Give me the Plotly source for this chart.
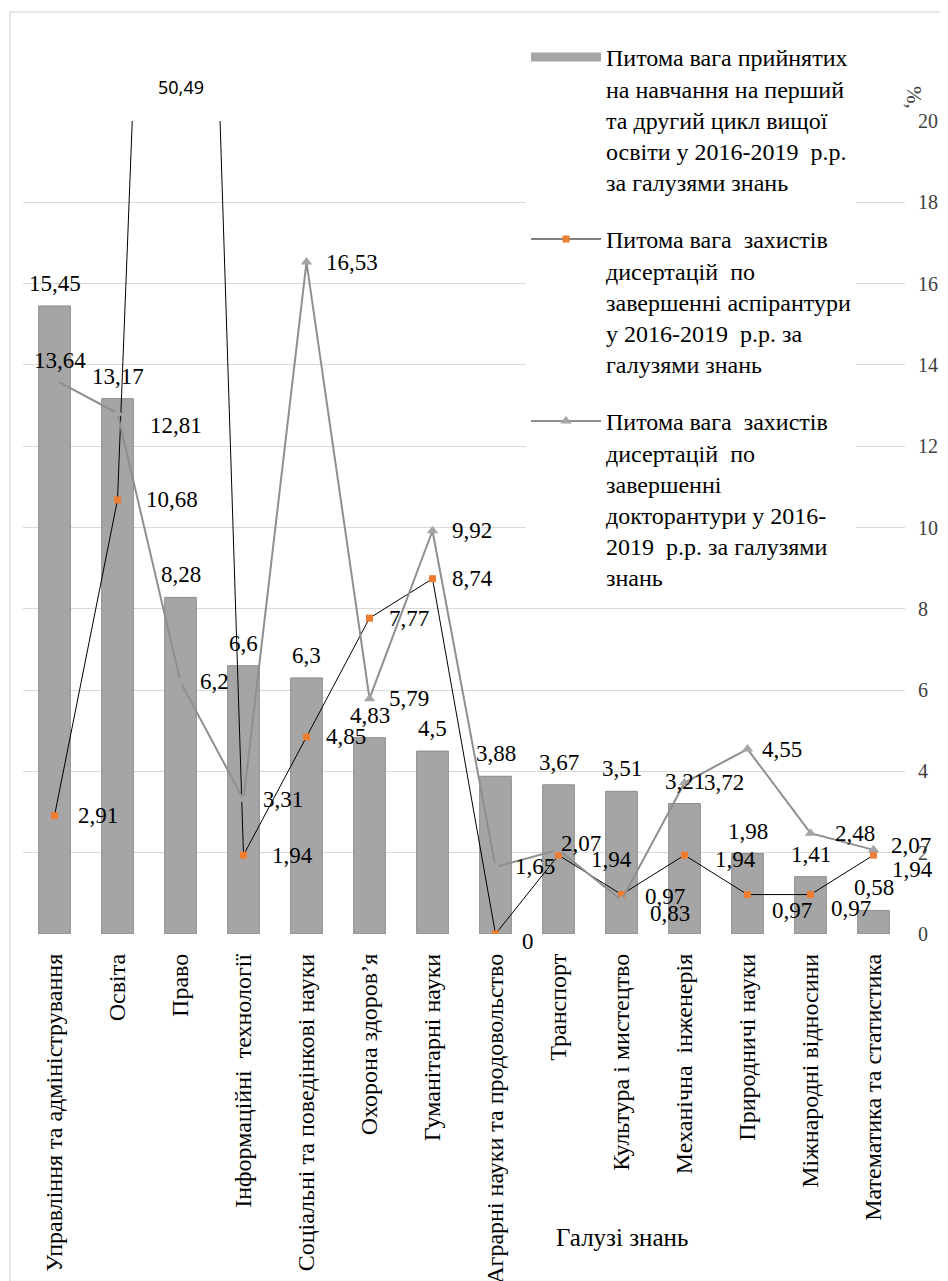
import plotly.graph_objects as go

categories = [
    "Управління та адміністрування", "Освіта", "Право", "Інформаційні  технології",
    "Соціальні та поведінкові науки", "Охорона здоров’я", "Гуманітарні науки",
    "Аграрні науки та продовольство", "Транспорт", "Культура і мистецтво",
    "Механічна  інженерія", "Природничі науки", "Міжнародні відносини",
    "Математика та статистика",
]
bar_values = [15.45, 13.17, 8.28, 6.6, 6.3, 4.83, 4.5, 3.88, 3.67, 3.51, 3.21, 1.98, 1.41, 0.58]
asp_values = [2.91, 10.68, 50.49, 1.94, 4.85, 7.77, 8.74, 0, 1.94, 0.97, 1.94, 0.97, 0.97, 1.94]
doc_values = [13.64, 12.81, 6.2, 3.31, 16.53, 5.79, 9.92, 1.65, 2.07, 0.83, 3.72, 4.55, 2.48, 2.07]
y_ticks = [0, 2, 4, 6, 8, 10, 12, 14, 16, 18, 20]

name_bar = ("Питома вага прийнятих<br>на навчання на перший<br>та другий цикл вищої<br>"
            "освіти у 2016-2019  р.р.<br>за галузями знань")
name_asp = ("Питома вага  захистів<br>дисертацій  по<br>завершенні аспірантури<br>"
            "у 2016-2019  р.р. за<br>галузями знань")
name_doc = ("Питома вага  захистів<br>дисертацій  по<br>завершенні<br>"
            "докторантури у 2016-<br>2019  р.р. за галузями<br>знань")

# label offsets (px) for individual line labels: (xshift, yshift)
asp_label_shift = {0: (21, 0), 1: (26, 0), 3: (26, 0), 7: (24, -7), 8: (30, -4), 9: (21, -2),
                   10: (28, -4), 11: (22, -16), 12: (18, -14), 13: (16, -14)}
doc_label_shift = {1: (30, -12), 8: (0, 6), 9: (26, -13), 11: (12, 0), 12: (22, 0), 13: (15, 4)}

FONT = "Liberation Serif, Times New Roman, serif"
Y_MAX = 20
BAR_COLOR = "#A5A5A5"


def fmt(v):
    return ("%g" % v).replace(".", ",")


fig = go.Figure()
fig.add_trace(go.Bar(
    x=categories, y=bar_values, name=name_bar, legendgroup="a", showlegend=False,
    marker=dict(color=BAR_COLOR, line=dict(color="#8C8C8C", width=1)),
))
# legend key for the bar series (wide rectangle, as in the original)
fig.add_trace(go.Scatter(
    x=[None], y=[None], name=name_bar, legendgroup="a", mode="lines",
    line=dict(color=BAR_COLOR, width=9), hoverinfo="skip",
))
fig.add_trace(go.Scatter(
    x=categories, y=asp_values, name=name_asp, legendgroup="b",
    mode="lines+markers",
    line=dict(color="#000000", width=1),
    marker=dict(symbol="square", size=7, color="#ED7D31"),
))
fig.add_trace(go.Scatter(
    x=categories, y=doc_values, name=name_doc, legendgroup="c",
    mode="lines+markers",
    line=dict(color="#8F8F8F", width=2),
    marker=dict(symbol="triangle-up", size=10, color="#A5A5A5"),
))

lab_font = dict(family=FONT, size=23, color="#000")
annotations = []
for c, v in zip(categories, bar_values):
    annotations.append(dict(x=c, y=v, text=fmt(v), showarrow=False, xanchor="center",
                            yanchor="bottom", yshift=8, font=lab_font))
for i, (c, v) in enumerate(zip(categories, asp_values)):
    if v > Y_MAX:
        annotations.append(dict(x=c, y=1, yref="paper", text=fmt(v), showarrow=False,
                                xanchor="center", yanchor="bottom", yshift=20,
                                font=dict(family="Noto Sans", size=18, color="#000")))
    else:
        dx, dy = asp_label_shift.get(i, (17, 0))
        annotations.append(dict(x=c, y=v, text=fmt(v), showarrow=False, xanchor="left",
                                yanchor="middle", xshift=dx, yshift=dy, font=lab_font))
for i, (c, v) in enumerate(zip(categories, doc_values)):
    if i == 0:
        annotations.append(dict(x=c, y=v, text=fmt(v), showarrow=False, xanchor="center",
                                yanchor="bottom", yshift=5, xshift=5, font=lab_font))
    else:
        dx, dy = doc_label_shift.get(i, (17, 0))
        annotations.append(dict(x=c, y=v, text=fmt(v), showarrow=False, xanchor="left",
                                yanchor="middle", xshift=dx, yshift=dy, font=lab_font))

annotations.append(dict(x=(622 - 23) / 882, y=(933 - 1236) / 812, xref="paper", yref="paper",
                        text="Галузі знань", showarrow=False, xanchor="center", yanchor="middle",
                        font=dict(family=FONT, size=25, color="#000")))
annotations.append(dict(x=(914 - 23) / 882, y=(933 - 98) / 812, xref="paper", yref="paper",
                        text="%,", textangle=90, showarrow=False, xanchor="center", yanchor="middle",
                        font=dict(family=FONT, size=21, color="#404040")))

fig.update_layout(
    width=940, height=1273,
    margin=dict(l=15, r=43, t=113, b=347, autoexpand=False),
    paper_bgcolor="white", plot_bgcolor="white",
    bargap=0.497,
    showlegend=True,
    legend=dict(x=(526 - 23) / 882, y=(933 - 35) / 812, xanchor="left", yanchor="top",
                bgcolor="white", font=dict(family=FONT, size=24, color="#000"),
                valign="top", tracegroupgap=23, itemwidth=70, traceorder="grouped"),
    xaxis=dict(type="category", range=[-0.5, len(categories) - 0.5], tickangle=-90,
               showgrid=False, showline=False, zeroline=False,
               tickfont=dict(family=FONT, size=24, color="#000"), ticks="",
               ticklabelstandoff=14, automargin=False),
    yaxis=dict(range=[0, Y_MAX], side="right", tickvals=y_ticks, showgrid=True,
               gridcolor="#D9D9D9", gridwidth=1.3, zeroline=False, showline=False,
               tickfont=dict(family=FONT, size=20, color="#404040"), ticks="",
               ticklabelstandoff=12, automargin=False),
    annotations=annotations,
    shapes=[dict(type="rect", xref="paper", yref="paper",
                 x0=(10 - 23) / 882, x1=(947 - 23) / 882,
                 y0=(933 - 1280) / 812, y1=(933 - 12) / 812,
                 line=dict(color="#D9D9D9", width=1.3), fillcolor="rgba(0,0,0,0)", layer="below")],
)

fig.write_html("out.html")
